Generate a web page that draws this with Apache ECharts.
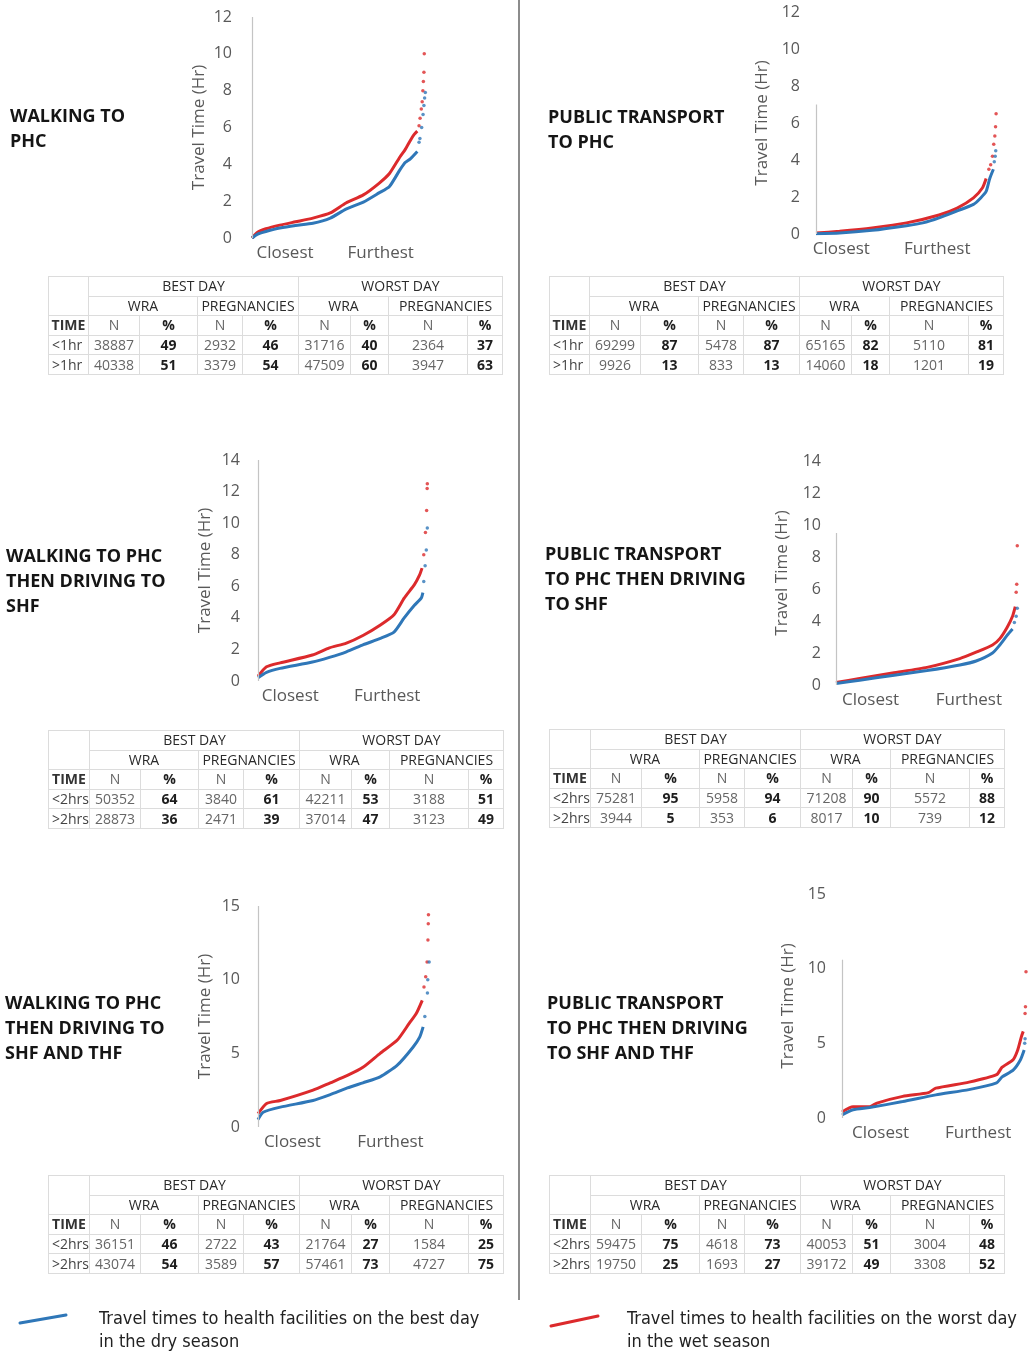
<!DOCTYPE html>
<html>
<head>
<meta charset="utf-8">
<script src="https://cdn.jsdelivr.net/npm/echarts@6/dist/echarts.min.js"></script>
<style>
  html, body { margin: 0; padding: 0; background: #fff; }
  #wrap { position: relative; width: 1028px; height: 1352px; overflow: hidden; }
  #chart { position: absolute; left: 0; top: 0; width: 1028px; height: 1352px; }
  .title { position: absolute; font-family: "Open Sans", sans-serif; font-weight: 700; font-size: 18px; line-height: 25px; color: #151515; white-space: nowrap; }
  table.t { position: absolute; border-collapse: collapse; table-layout: fixed; font-family: "Open Sans", sans-serif; font-size: 14px; color: #2a2a2a; }
  table.t td { border: 1px solid #dcdcdc; height: 18.6px; padding: 0; text-align: center; line-height: 18px; white-space: nowrap; overflow: hidden; }
  table.t td.n { color: #666; font-weight: 400; }
  table.t td.p { color: #1e1e1e; font-weight: 700; }
  table.t td.h { color: #2a2a2a; }
  table.t td.tm { font-weight: 700; color: #333; }
  table.t td.rl { color: #444; text-align: left; padding-left: 3px; }
  .divider { position: absolute; left: 518px; top: 0; width: 1.5px; height: 1300px; background: #8c8c8c; }
  .legtext { position: absolute; font-family: "Liberation Sans Narrow", "DejaVu Sans Condensed", sans-serif; font-size: 18px; line-height: 23px; color: #222; white-space: nowrap; }
  svg.leg { position: absolute; left: 0; top: 0; }
</style>
</head>
<body>
<div id="wrap">
  <div id="chart"></div>
  <div class="divider"></div>
</div>
<script>
// ---------------- DATA ----------------
const xLabels = ['Closest', 'Furthest'];
const yAxisName = 'Travel Time (Hr)';

// Panel 1: walking to PHC  ([percentile of population, hours])
const walkPhcBest = [[0,0],[3,0.2],[8,0.35],[16,0.54],[25,0.68],[35,0.8],[45,1.08],[54,1.57],[64,1.95],[73,2.45],[79,2.8],[85,3.7],[88,4.1],[91,4.3],[95,4.7]];
const walkPhcBestTail = [[96,5.2],[96.5,5.4],[97.5,6.0],[98.3,6.7],[98.8,7.2],[99.2,7.6],[99.6,7.9]];
const walkPhcWorst = [[0,0],[3,0.3],[8,0.5],[16,0.7],[25,0.88],[35,1.08],[45,1.36],[54,1.9],[64,2.34],[73,2.97],[79,3.5],[85,4.4],[88,4.8],[91,5.3],[93,5.6],[95,5.8]];
const walkPhcWorstTail = [[96,6.1],[96.6,6.5],[97.3,7.0],[97.8,7.4],[98.2,8.0],[98.5,8.5],[98.8,9.0],[99.0,10.0]];

// Panel 2: public transport to PHC
const ptPhcBest = [[0,0.02],[13,0.05],[31,0.2],[50,0.45],[59,0.6],[68,0.87],[78,1.25],[87,1.6],[91,1.95],[94,2.3],[96,3.0],[98,3.5]];
const ptPhcBestTail = [[98.5,3.9],[99,4.2],[99.3,4.5]];
const ptPhcWorst = [[0,0.05],[13,0.15],[31,0.33],[50,0.6],[68,1.03],[78,1.4],[87,1.95],[92,2.5],[94,3.0]];
const ptPhcWorstTail = [[95.5,3.5],[96.5,3.75],[97.5,4.2],[98.2,4.85],[98.8,5.3],[99.2,5.8],[99.5,6.5]];

// Panel 3: walking to PHC then driving to SHF
const walkShfBest = [[0,0.2],[5,0.55],[13,0.8],[32,1.2],[42,1.5],[52,1.85],[62,2.3],[72,2.7],[80,3.1],[86,4.0],[92,4.8],[96,5.25],[97,5.6]];
const walkShfBestTail = [[97.5,6.3],[98.3,7.3],[99,8.3],[99.6,9.7]];
const walkShfWorst = [[0,0.3],[5,0.9],[13,1.15],[32,1.65],[42,2.1],[52,2.4],[62,2.9],[72,3.55],[80,4.2],[86,5.25],[92,6.1],[95,6.7],[96.5,7.15]];
const walkShfWorstTail = [[97.5,8.0],[98.5,9.4],[99.2,10.8],[99.5,12.2],[99.6,12.5]];

// Panel 4: public transport to PHC then driving to SHF
const ptShfBest = [[0,0.1],[13,0.3],[31,0.6],[50,0.9],[68,1.25],[77,1.5],[86,2.0],[90,2.5],[94,3.1],[97,3.5]];
const ptShfBestTail = [[98,3.9],[99,4.3],[99.6,4.8]];
const ptShfWorst = [[0,0.15],[13,0.4],[31,0.75],[50,1.1],[68,1.65],[77,2.05],[86,2.5],[90,2.9],[94,3.6],[97,4.3],[98.5,4.9]];
const ptShfWorstTail = [[99,5.8],[99.3,6.3],[99.6,8.7]];

// Panel 5: walking to PHC then driving to SHF and THF
const walkThfBest = [[0,0.5],[3,1.0],[13,1.35],[32,1.8],[42,2.2],[52,2.65],[61,3.0],[71,3.4],[81,4.2],[90,5.4],[94,6.1],[96,6.8]];
const walkThfBestTail = [[97,7.5],[98.5,9.1],[98.7,10.0],[99.5,11.2]];
const walkThfWorst = [[0,0.9],[5,1.6],[13,1.8],[32,2.5],[42,3.0],[52,3.5],[61,4.05],[71,5.0],[81,5.9],[88,7.05],[92,7.7],[95.5,8.6]];
const walkThfWorstTail = [[96.5,9.5],[97.5,10.2],[98.3,11.2],[98.8,12.7],[99,13.8],[99.1,14.4]];

// Panel 6: public transport to PHC then driving to SHF and THF
const ptThfBest = [[0,0.2],[6,0.55],[15,0.7],[33,1.1],[51,1.55],[69,1.9],[84,2.35],[87,2.75],[93,3.2],[97,3.9],[99,4.55]];
const ptThfBestTail = [[99.3,5.0],[99.5,5.3]];
const ptThfWorst = [[0,0.4],[6,0.75],[15,0.75],[19,1.0],[33,1.45],[47,1.7],[51,2.0],[69,2.4],[84,2.9],[87,3.4],[93,3.9],[95.5,4.55],[97.5,5.45],[98.5,5.8]];
const ptThfWorstTail = [[99.5,7.0],[99.7,7.45],[100,9.8]];

// Tables: [time band, best WRA N, %, best preg N, %, worst WRA N, %, worst preg N, %]
const walkPhcTable = [['<1hr',38887,49,2932,46,31716,40,2364,37],['>1hr',40338,51,3379,54,47509,60,3947,63]];
const ptPhcTable   = [['<1hr',69299,87,5478,87,65165,82,5110,81],['>1hr',9926,13,833,13,14060,18,1201,19]];
const walkShfTable = [['<2hrs',50352,64,3840,61,42211,53,3188,51],['>2hrs',28873,36,2471,39,37014,47,3123,49]];
const ptShfTable   = [['<2hrs',75281,95,5958,94,71208,90,5572,88],['>2hrs',3944,5,353,6,8017,10,739,12]];
const walkThfTable = [['<2hrs',36151,46,2722,43,21764,27,1584,25],['>2hrs',43074,54,3589,57,57461,73,4727,75]];
const ptThfTable   = [['<2hrs',59475,75,4618,73,40053,51,3004,48],['>2hrs',19750,25,1693,27,39172,49,3308,52]];

const legendBest = ['Travel times to health facilities on the best day', 'in the dry season'];
const legendWorst = ['Travel times to health facilities on the worst day', 'in the wet season'];

// ---------------- LAYOUT ----------------
const BLUE = '#2f77b8';
const RED = '#dc2a2c';
const panels = [
  { title: ['WALKING TO', 'PHC'], tx: 10, ty: 103,
    best: walkPhcBest, bestTail: walkPhcBestTail, worst: walkPhcWorst, worstTail: walkPhcWorstTail, table: walkPhcTable,
    left: 252, top: 17, width: 174, height: 221, yMax: 12, yInt: 2, axisTop: 12, lblMargin: 20, nameGap: 44, xPos: [19, 74], tblX: 48, tblY: 276 },
  { title: ['PUBLIC TRANSPORT', 'TO PHC'], tx: 548, ty: 104,
    best: ptPhcBest, bestTail: ptPhcBestTail, worst: ptPhcWorst, worstTail: ptPhcWorstTail, table: ptPhcTable,
    left: 816, top: 12, width: 181, height: 222, yMax: 12, yInt: 2, axisTop: 7, lblMargin: 16, nameGap: 45, xPos: [14, 67], tblX: 549, tblY: 276 },
  { title: ['WALKING TO PHC', 'THEN DRIVING TO', 'SHF'], tx: 6, ty: 543,
    best: walkShfBest, bestTail: walkShfBestTail, worst: walkShfWorst, worstTail: walkShfWorstTail, table: walkShfTable,
    left: 258, top: 460, width: 170, height: 221, yMax: 14, yInt: 2, axisTop: 14, lblMargin: 18, nameGap: 44, xPos: [19, 76], tblX: 48, tblY: 730 },
  { title: ['PUBLIC TRANSPORT', 'TO PHC THEN DRIVING', 'TO SHF'], tx: 545, ty: 541,
    best: ptShfBest, bestTail: ptShfBestTail, worst: ptShfWorst, worstTail: ptShfWorstTail, table: ptShfTable,
    left: 836, top: 461, width: 182, height: 224, yMax: 14, yInt: 2, axisTop: 9.5, lblMargin: 15, nameGap: 45, xPos: [19, 73], tblX: 549, tblY: 729 },
  { title: ['WALKING TO PHC', 'THEN DRIVING TO', 'SHF AND THF'], tx: 5, ty: 990,
    best: walkThfBest, bestTail: walkThfBestTail, worst: walkThfWorst, worstTail: walkThfWorstTail, table: walkThfTable,
    left: 258, top: 906, width: 172, height: 221, yMax: 15, yInt: 5, axisTop: 15, lblMargin: 18, nameGap: 44, xPos: [20, 77], tblX: 48, tblY: 1175 },
  { title: ['PUBLIC TRANSPORT', 'TO PHC THEN DRIVING', 'TO SHF AND THF'], tx: 547, ty: 990,
    best: ptThfBest, bestTail: ptThfBestTail, worst: ptThfWorst, worstTail: ptThfWorstTail, table: ptThfTable,
    left: 842, top: 894, width: 184, height: 224, yMax: 15, yInt: 5, axisTop: 10.6, lblMargin: 16, nameGap: 45, xPos: [21, 74], tblX: 549, tblY: 1175 }
];

const grids = [], xAxes = [], yAxes = [], series = [];
panels.forEach((p, i) => {
  grids.push({ left: p.left, top: p.top, width: p.width, height: p.height, containLabel: false });
  xAxes.push({
    type: 'value', gridIndex: i, min: 0, max: 100,
    axisLine: { show: false }, axisTick: { show: false }, splitLine: { show: false },
    axisLabel: {
      customValues: p.xPos, margin: 7, color: '#595959', fontSize: 17, fontFamily: 'Open Sans',
      formatter: v => (v < 50 ? xLabels[0] : xLabels[1])
    }
  });
  yAxes.push({
    type: 'value', gridIndex: i, min: 0, max: p.yMax, interval: p.yInt,
    name: yAxisName, nameLocation: 'middle', nameGap: p.nameGap,
    nameTextStyle: { color: '#595959', fontSize: 17, fontFamily: 'Open Sans' },
    axisLine: { show: false }, axisTick: { show: false }, splitLine: { show: false },
    axisLabel: { margin: p.lblMargin, color: '#595959', fontSize: 16, fontFamily: 'Open Sans' }
  });
  series.push({
    type: 'line', xAxisIndex: i, yAxisIndex: i, data: p.worst, showSymbol: false, smooth: 0.2,
    lineStyle: { color: RED, width: 3 }, itemStyle: { color: RED }, silent: true, z: 2
  });
  series.push({
    type: 'scatter', xAxisIndex: i, yAxisIndex: i, data: p.worstTail, symbolSize: 3.5,
    itemStyle: { color: RED }, silent: true, z: 2
  });
  series.push({
    type: 'line', xAxisIndex: i, yAxisIndex: i, data: p.best, showSymbol: false, smooth: 0.2,
    lineStyle: { color: BLUE, width: 3 }, itemStyle: { color: BLUE }, silent: true, z: 3,
    markLine: {
      silent: true, symbol: ['none', 'none'], label: { show: false },
      lineStyle: { color: '#c4c4c4', type: 'solid', width: 1.2 },
      data: [[{ coord: [0, 0] }, { coord: [0, p.axisTop] }]]
    }
  });
  series.push({
    type: 'scatter', xAxisIndex: i, yAxisIndex: i, data: p.bestTail, symbolSize: 3.5,
    itemStyle: { color: BLUE }, silent: true, z: 3
  });
});

const chart = echarts.init(document.getElementById('chart'), null, { renderer: 'canvas' });
chart.setOption({ animation: false, grid: grids, xAxis: xAxes, yAxis: yAxes, series: series });

// ---------------- HTML OVERLAYS ----------------
const wrap = document.getElementById('wrap');
const colW = [40, 51, 58, 45, 56, 52, 38, 79, 35];
panels.forEach(p => {
  const t = document.createElement('div');
  t.className = 'title';
  t.style.left = p.tx + 'px'; t.style.top = p.ty + 'px';
  t.innerHTML = p.title.join('<br>');
  wrap.appendChild(t);

  const tb = document.createElement('table');
  tb.className = 't';
  tb.style.left = p.tblX + 'px'; tb.style.top = p.tblY + 'px';
  let html = '<colgroup>' + colW.map(w => `<col style="width:${w}px">`).join('') + '</colgroup>';
  html += '<tr><td rowspan="2"></td><td class="h" colspan="4">BEST DAY</td><td class="h" colspan="4">WORST DAY</td></tr>';
  html += '<tr><td class="h" colspan="2">WRA</td><td class="h" colspan="2">PREGNANCIES</td><td class="h" colspan="2">WRA</td><td class="h" colspan="2">PREGNANCIES</td></tr>';
  html += '<tr><td class="tm">TIME</td>' + ['N','%','N','%','N','%','N','%'].map((h, k) => `<td class="${k % 2 ? 'p' : 'n'}">${h}</td>`).join('') + '</tr>';
  p.table.forEach(r => {
    html += '<tr><td class="rl">' + r[0].replace('<', '&lt;').replace('>', '&gt;') + '</td>' +
      r.slice(1).map((v, k) => `<td class="${k % 2 ? 'p' : 'n'}">${v}</td>`).join('') + '</tr>';
  });
  tb.innerHTML = html;
  wrap.appendChild(tb);
});

// legend
const svgNS = 'http://www.w3.org/2000/svg';
const svg = document.createElementNS(svgNS, 'svg');
svg.setAttribute('class', 'leg'); svg.setAttribute('width', '1028'); svg.setAttribute('height', '1352');
[[20, 1323, 66, 1315, BLUE], [551, 1326, 598, 1316, RED]].forEach(s => {
  const l = document.createElementNS(svgNS, 'line');
  l.setAttribute('x1', s[0]); l.setAttribute('y1', s[1]); l.setAttribute('x2', s[2]); l.setAttribute('y2', s[3]);
  l.setAttribute('stroke', s[4]); l.setAttribute('stroke-width', '3'); l.setAttribute('stroke-linecap', 'round');
  svg.appendChild(l);
});
wrap.appendChild(svg);
[[99, 1306, legendBest], [627, 1306, legendWorst]].forEach(L => {
  const d = document.createElement('div');
  d.className = 'legtext';
  d.style.left = L[0] + 'px'; d.style.top = L[1] + 'px';
  d.innerHTML = L[2].join('<br>');
  wrap.appendChild(d);
});
</script>
</body>
</html>
